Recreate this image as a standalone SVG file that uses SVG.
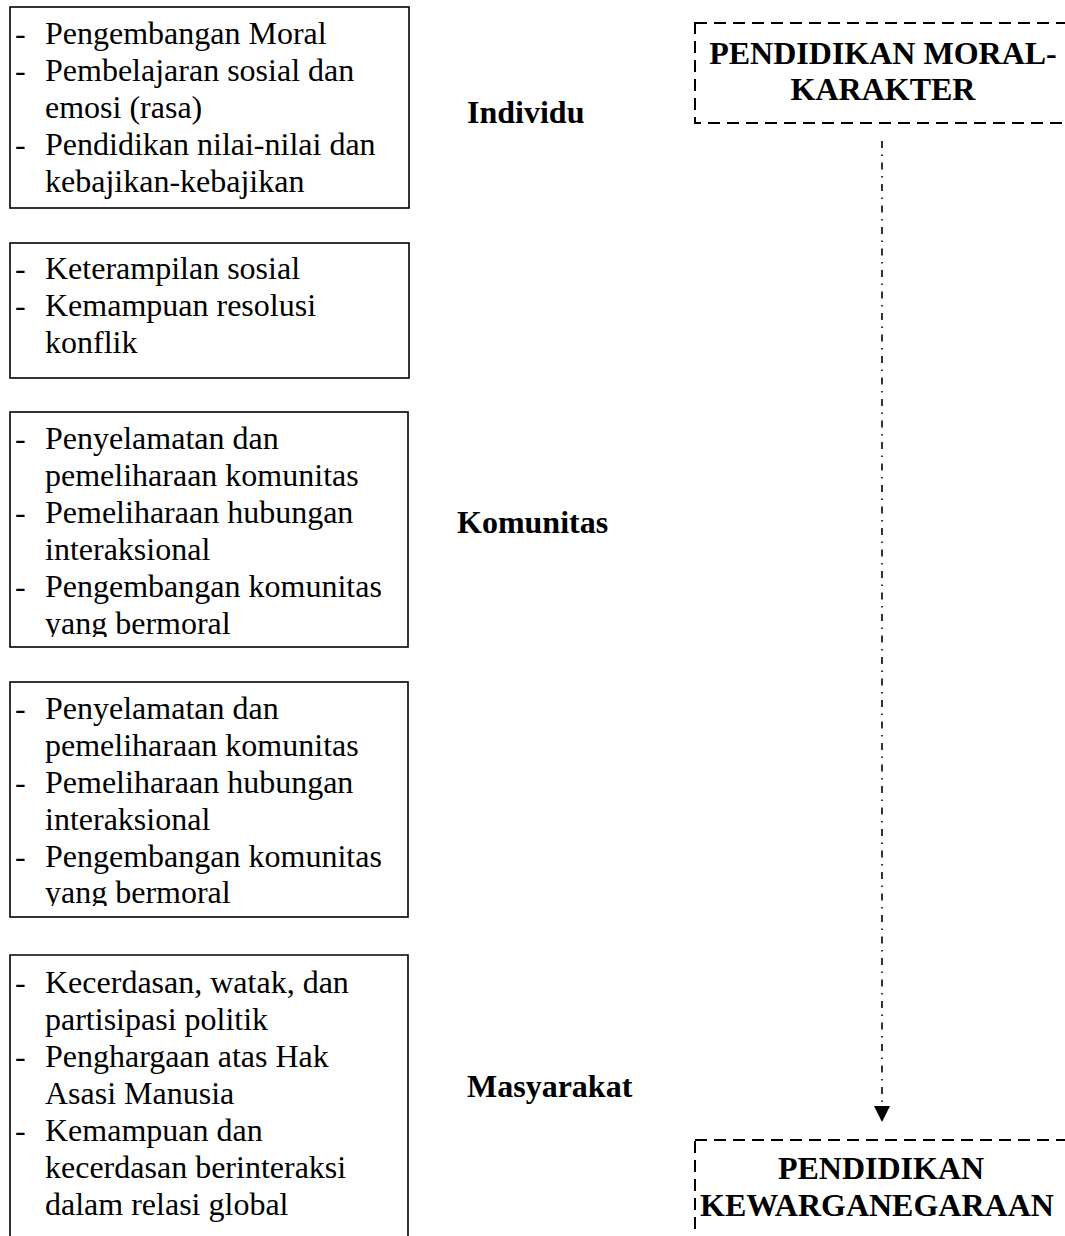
<svg xmlns="http://www.w3.org/2000/svg" width="1065" height="1236" viewBox="0 0 1065 1236">
<style>
.t{font-family:"Liberation Serif","Times New Roman",serif;font-size:32px;fill:#000}
.b{font-family:"Liberation Serif","Times New Roman",serif;font-size:32px;font-weight:bold;fill:#000}
.box{fill:none;stroke:#000;stroke-width:1.6}
.dbox{fill:none;stroke:#000;stroke-width:2;stroke-dasharray:12 7}
.conn{fill:none;stroke:#000;stroke-width:1.6;stroke-dasharray:7 6.5 1.5 6.5}
</style>
<defs>
<marker id="ah" viewBox="0 0 16 16" refX="16" refY="8" markerWidth="16" markerHeight="16" markerUnits="userSpaceOnUse" orient="auto">
<path d="M0,0 L16,8 L0,16 Z" fill="#000"/>
</marker>
<clipPath id="c3"><rect x="0" y="412" width="420" height="225"/></clipPath>
<clipPath id="c4"><rect x="0" y="682" width="420" height="224"/></clipPath>
</defs>
<rect width="1065" height="1236" fill="#fff"/>

<g id="box1">
<rect class="box" x="10" y="7" width="399" height="201"/>
<text class="t" x="15" y="44">-</text><text class="t" x="45" y="44">Pengembangan Moral</text>
<text class="t" x="15" y="81">-</text><text class="t" x="45" y="81">Pembelajaran sosial dan</text>
<text class="t" x="45" y="118">emosi (rasa)</text>
<text class="t" x="15" y="155">-</text><text class="t" x="45" y="155">Pendidikan nilai-nilai dan</text>
<text class="t" x="45" y="192">kebajikan-kebajikan</text>
</g>

<g id="box2">
<rect class="box" x="10" y="243" width="399" height="135"/>
<text class="t" x="15" y="279">-</text><text class="t" x="45" y="279">Keterampilan sosial</text>
<text class="t" x="15" y="316">-</text><text class="t" x="45" y="316">Kemampuan resolusi</text>
<text class="t" x="45" y="353">konflik</text>
</g>

<g id="box3">
<rect class="box" x="10" y="412" width="398" height="235"/>
<g clip-path="url(#c3)">
<text class="t" x="15" y="449">-</text><text class="t" x="45" y="449">Penyelamatan dan</text>
<text class="t" x="45" y="486">pemeliharaan komunitas</text>
<text class="t" x="15" y="523">-</text><text class="t" x="45" y="523">Pemeliharaan hubungan</text>
<text class="t" x="45" y="560">interaksional</text>
<text class="t" x="15" y="597">-</text><text class="t" x="45" y="597">Pengembangan komunitas</text>
<text class="t" x="45" y="634">yang bermoral</text>
</g>
</g>

<g id="box4">
<rect class="box" x="10" y="682" width="398" height="235"/>
<g clip-path="url(#c4)">
<text class="t" x="15" y="719">-</text><text class="t" x="45" y="719">Penyelamatan dan</text>
<text class="t" x="45" y="756">pemeliharaan komunitas</text>
<text class="t" x="15" y="793">-</text><text class="t" x="45" y="793">Pemeliharaan hubungan</text>
<text class="t" x="45" y="830">interaksional</text>
<text class="t" x="15" y="867">-</text><text class="t" x="45" y="867">Pengembangan komunitas</text>
<text class="t" x="45" y="903">yang bermoral</text>
</g>
</g>

<g id="box5">
<path class="box" d="M10,1236 L10,955 L408,955 L408,1236"/>
<text class="t" x="15" y="993">-</text><text class="t" x="45" y="993">Kecerdasan, watak, dan</text>
<text class="t" x="45" y="1030">partisipasi politik</text>
<text class="t" x="15" y="1067">-</text><text class="t" x="45" y="1067">Penghargaan atas Hak</text>
<text class="t" x="45" y="1104">Asasi Manusia</text>
<text class="t" x="15" y="1141">-</text><text class="t" x="45" y="1141">Kemampuan dan</text>
<text class="t" x="45" y="1178">kecerdasan berinteraksi</text>
<text class="t" x="45" y="1215">dalam relasi global</text>
</g>

<g id="label-individu"><text class="b" x="467" y="123">Individu</text></g>
<g id="label-komunitas"><text class="b" x="457" y="533">Komunitas</text></g>
<g id="label-masyarakat"><text class="b" x="467" y="1097">Masyarakat</text></g>

<g id="pmk">
<rect class="dbox" x="695" y="23" width="390" height="100"/>
<text class="b" x="883" y="64" text-anchor="middle">PENDIDIKAN MORAL-</text>
<text class="b" x="883" y="100" text-anchor="middle">KARAKTER</text>
</g>

<g id="pkn">
<rect class="dbox" x="695" y="1140" width="390" height="120"/>
<text class="b" x="881" y="1179" text-anchor="middle">PENDIDIKAN</text>
<text class="b" x="877" y="1216" text-anchor="middle">KEWARGANEGARAAN</text>
</g>

<g id="connectors">
<line class="conn" x1="882" y1="141" x2="882" y2="1122" marker-end="url(#ah)"/>
</g>
</svg>
